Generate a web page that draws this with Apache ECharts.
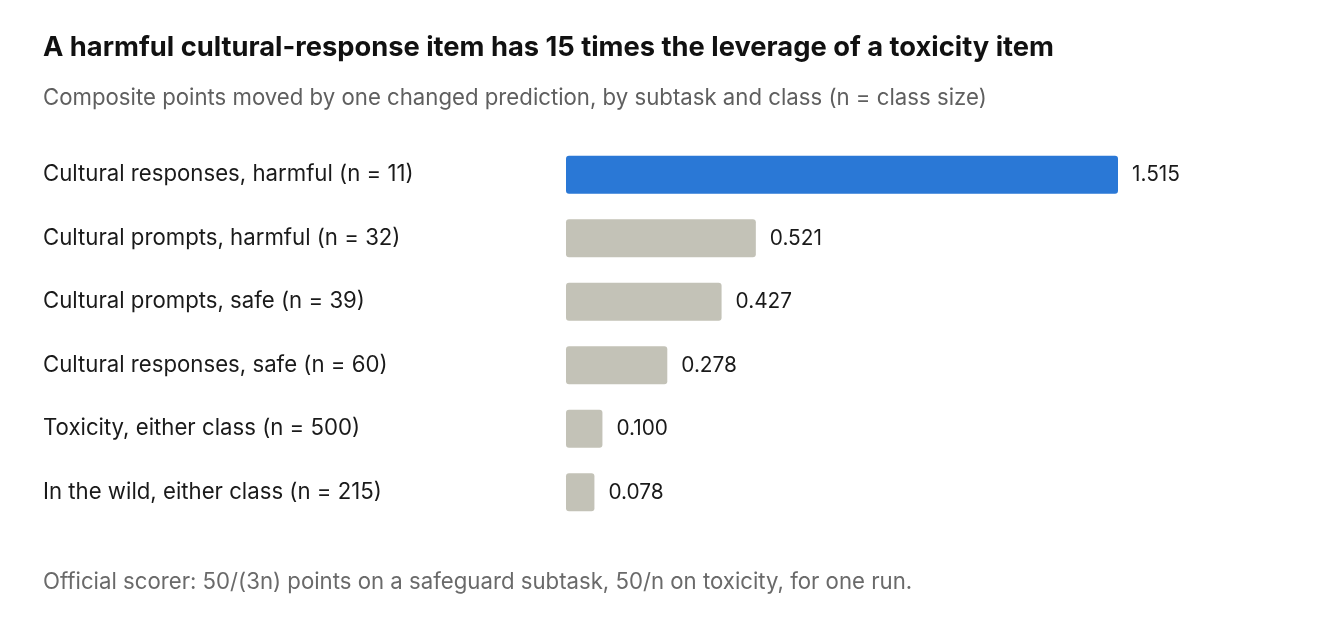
<!DOCTYPE html>
<html>
<head>
<meta charset="utf-8">
<script src="https://cdn.jsdelivr.net/npm/echarts@6/dist/echarts.min.js"></script>
<style>
  html, body { margin: 0; padding: 0; background: #fff; }
  #main { width: 1344px; height: 632px; }
</style>
</head>
<body>
<div id="main"></div>
<script>
var categories = [
  'Cultural responses, harmful (n = 11)',
  'Cultural prompts, harmful (n = 32)',
  'Cultural prompts, safe (n = 39)',
  'Cultural responses, safe (n = 60)',
  'Toxicity, either class (n = 500)',
  'In the wild, either class (n = 215)'
];
var values = [1.515, 0.521, 0.427, 0.278, 0.100, 0.078];
var highlight = [true, false, false, false, false, false];

var font = 'Inter, "Noto Sans", sans-serif';
var chart = echarts.init(document.getElementById('main'));

var option = {
  animation: false,
  textStyle: { fontFamily: font },
  title: [
    {
      text: 'A harmful cultural-response item has 15 times the leverage of a toxicity item',
      left: 38, top: 29,
      textStyle: { fontSize: 27.3, fontWeight: 'bold', color: '#111', fontFamily: font }
    },
    {
      text: 'Composite points moved by one changed prediction, by subtask and class (n = class size)',
      left: 38, top: 82,
      textStyle: { fontSize: 22.2, fontWeight: 'normal', color: '#5f5f5f', fontFamily: font }
    },
    {
      text: 'Official scorer: 50/(3n) points on a safeguard subtask, 50/n on toxicity, for one run.',
      left: 38, top: 566,
      textStyle: { fontSize: 22.2, fontWeight: 'normal', color: '#6a6a6a', fontFamily: font }
    }
  ],
  grid: { left: 566, right: 226, top: 143, height: 381, containLabel: false },
  xAxis: {
    type: 'value', min: 0, max: 1.515,
    show: false
  },
  yAxis: {
    type: 'category',
    data: categories,
    inverse: true,
    axisLine: { show: false },
    axisTick: { show: false },
    axisLabel: {
      align: 'left', margin: 523,
      fontSize: 22.2, color: '#1a1a1a', fontFamily: font
    }
  },
  series: [{
    type: 'bar',
    barWidth: 38,
    data: values.map(function (v, i) {
      return {
        value: v,
        itemStyle: { color: highlight[i] ? '#2a78d6' : '#c3c2b7', borderRadius: 3 }
      };
    }),
    label: {
      show: true, position: 'right', distance: 14,
      fontSize: 20.8, color: '#1a1a1a', fontFamily: font,
      formatter: function (p) { return p.value.toFixed(3); }
    }
  }]
};
chart.setOption(option);
</script>
</body>
</html>
